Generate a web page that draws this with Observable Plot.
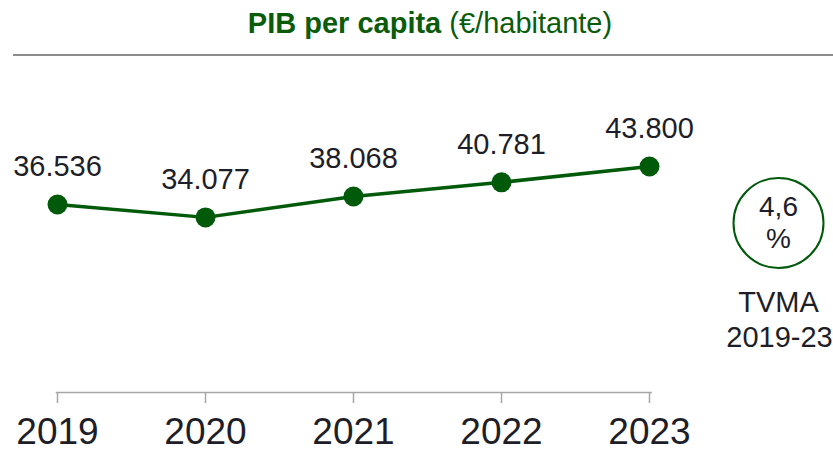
<!DOCTYPE html>
<html>
<head>
<meta charset="utf-8">
<script src="https://cdn.jsdelivr.net/npm/d3@7"></script>
<script src="https://cdn.jsdelivr.net/npm/@observablehq/plot@0.6"></script>
<style>
  html, body { margin: 0; padding: 0; background: #fff; }
  body { width: 833px; height: 452px; overflow: hidden; font-family: "Liberation Sans", Arial, sans-serif; }
  #title { height: 45px; padding-top: 9px; padding-left: 27px; text-align: center; font-size: 29px; line-height: 28px; color: #0a5c0a; white-space: nowrap; }
  #title b { font-weight: bold; }
  #rule { margin-left: 13px; height: 2px; background: #8c8c8c; }
  #chart svg { display: block; }
</style>
</head>
<body>
<div id="title"><b>PIB per capita</b> (€/habitante)</div>
<div id="rule"></div>
<div id="chart"></div>
<script>
// Data
const years = ["2019", "2020", "2021", "2022", "2023"];
const pibPerCapita = [36536, 34077, 38068, 40781, 43800];
const valueLabels = ["36.536", "34.077", "38.068", "40.781", "43.800"];
const tvmaValue = ["4,6"];
const tvmaUnit = ["%"];
const tvmaLabel = ["TVMA"];
const tvmaPeriod = ["2019-23"];

const data = years.map((y, i) => ({year: y, value: pibPerCapita[i], label: valueLabels[i]}));

const green = "#005a0a";
const ink = "#1e1e28";
const W = 833, H = 396;
const mL = 56, mT = 20;
const cx = 778, cy = 166.5;

const chart = Plot.plot({
  width: W,
  height: H,
  marginLeft: mL,
  marginRight: W - 650.7,
  marginTop: mT,
  marginBottom: 60,
  style: {fontFamily: "'Liberation Sans', Arial, sans-serif", background: "#fff", overflow: "visible"},
  x: {type: "point", domain: years, padding: 0, axis: null, label: null},
  y: {domain: [0, 50000], range: [339.1, 77.6], axis: null},
  marks: [
    Plot.frame({anchor: "bottom", stroke: "#a6a6a6", strokeWidth: 1.5}),
    Plot.axisX({anchor: "bottom", label: null, tickSize: 11, tickPadding: 14, fontSize: 37, stroke: "#a6a6a6", fill: ink, strokeWidth: 1.5}),
    Plot.line(data, {x: "year", y: "value", stroke: green, strokeWidth: 3.5}),
    Plot.dot(data, {x: "year", y: "value", r: 10, fill: green, stroke: "none"}),
    Plot.text(data, {x: "year", y: "value", text: "label", dy: -38, lineAnchor: "middle", fontSize: 29, fill: ink}),
    Plot.dot(tvmaValue, {frameAnchor: "top-left", dx: cx - mL, dy: cy - mT, r: 45, stroke: green, strokeWidth: 2, fill: "none"}),
    Plot.text(tvmaValue, {text: d => d, frameAnchor: "top-left", textAnchor: "middle", dx: cx - mL, dy: 150.7 - mT, lineAnchor: "middle", fontSize: 28, fill: ink}),
    Plot.text(tvmaUnit, {text: d => d, frameAnchor: "top-left", textAnchor: "middle", dx: cx - mL, dy: 183 - mT, lineAnchor: "middle", fontSize: 28, fill: ink}),
    Plot.text(tvmaLabel, {text: d => d, frameAnchor: "top-left", textAnchor: "middle", dx: cx - mL, dy: 246.5 - mT, lineAnchor: "middle", fontSize: 29, fill: ink}),
    Plot.text(tvmaPeriod, {text: d => d, frameAnchor: "top-left", textAnchor: "middle", dx: 779 - mL, dy: 281 - mT, lineAnchor: "middle", fontSize: 29, fill: ink})
  ]
});
document.getElementById("chart").appendChild(chart);
</script>
</body>
</html>
